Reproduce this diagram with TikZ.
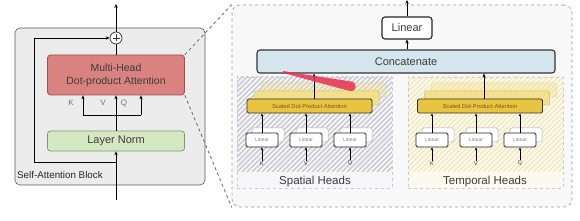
\documentclass[tikz,border=0pt]{standalone}
\usepackage{fontspec}
\setmainfont{Liberation Sans}
\usetikzlibrary{arrows.meta}
\definecolor{blkfill}{RGB}{236,236,236}
\definecolor{blkdraw}{RGB}{90,90,90}
\definecolor{mhafill}{RGB}{217,130,128}
\definecolor{mhadraw}{RGB}{160,80,80}
\definecolor{lnfill}{RGB}{214,232,194}
\definecolor{lndraw}{RGB}{130,150,110}
\definecolor{panelfill}{RGB}{248,248,248}
\definecolor{paneldraw}{RGB}{150,150,150}
\definecolor{ccfill}{RGB}{212,229,238}
\definecolor{sdfill}{RGB}{233,196,64}
\definecolor{sdback}{RGB}{243,224,140}
\definecolor{sdbackdraw}{RGB}{205,190,120}
\definecolor{spfill}{RGB}{246,246,248}
\definecolor{sphatch}{RGB}{196,196,206}
\definecolor{tpfill}{RGB}{252,250,238}
\definecolor{tphatch}{RGB}{240,230,186}
\definecolor{txt}{RGB}{60,60,60}
\definecolor{sdtxt}{RGB}{110,90,30}
\definecolor{laser}{RGB}{232,48,80}
\begin{document}
\begin{tikzpicture}[x=1pt,y=-1pt,
  arr/.style={-{Stealth[length=4pt,width=3.4pt]}, line width=0.8pt},
  sarr/.style={-{Stealth[length=3pt,width=2.6pt]}, line width=0.7pt},
  box/.style={rounded corners=3pt, inner sep=0pt, align=center, text=txt},
  mhabox/.style={box, fill=mhafill, draw=mhadraw, line width=0.7pt, minimum width=137, minimum height=40, font=\fontsize{10.5}{13}\selectfont},
  lnbox/.style={box, fill=lnfill, draw=lndraw, line width=0.7pt, minimum width=137, minimum height=20, font=\fontsize{11}{13}\selectfont},
  blkbox/.style={rounded corners=5pt, fill=blkfill, draw=blkdraw, line width=0.6pt, minimum width=190, minimum height=157, inner sep=0pt},
  panelbox/.style={rounded corners=8pt, fill=panelfill, draw=paneldraw, dashed, line width=0.6pt, minimum width=340, minimum height=202, inner sep=0pt},
  zoomline/.style={draw=gray!80!black, dashed, line width=0.8pt},
  regbox/.style={draw=gray!40, dashed, line width=0.4pt, minimum width=155, minimum height=111, inner sep=0pt},
  linbig/.style={box, fill=white, draw=black!85, line width=1.1pt, minimum width=50, minimum height=22, font=\fontsize{11}{13}\selectfont},
  ccbox/.style={box, fill=ccfill, draw=black!80, line width=1.1pt, minimum width=298, minimum height=23, font=\fontsize{11}{13}\selectfont},
  sdbox/.style={rounded corners=1.5pt, inner sep=0pt, fill=sdfill, draw=black!80, line width=0.9pt, minimum width=125, minimum height=14, font=\fontsize{5.8}{7}\selectfont, text=sdtxt},
  sdbk/.style={rounded corners=1.5pt, inner sep=0pt, fill=sdback, draw=sdbackdraw, line width=0.5pt, minimum width=125, minimum height=14},
  linsm/.style={rounded corners=1.5pt, inner sep=0pt, fill=white, draw=black!85, line width=0.9pt, minimum width=32, minimum height=14, font=\fontsize{5}{6}\selectfont, text=gray},
  linbk/.style={rounded corners=1.5pt, inner sep=0pt, fill=white, draw=gray!60, line width=0.5pt, minimum width=32, minimum height=14},
  kvq/.style={inner sep=0.5pt, font=\fontsize{5.5}{6}\selectfont, text=txt},
  kvqbig/.style={inner sep=0pt, font=\fontsize{8}{9}\selectfont, text=gray!90!black},
  headlbl/.style={inner sep=0pt, font=\fontsize{11.5}{13}\selectfont, text=txt}
]
\useasboundingbox (0,0) rectangle (580,221);

% ---------- left: self-attention block ----------
\node[blkbox] (blk) at (110,106.5) {};
\node[anchor=west, inner sep=0pt, font=\fontsize{9.8}{11}\selectfont, text=black!85] (blklbl) at (17,175) {Self-Attention Block};
\node[mhabox] (mha) at (116,75) {Multi-Head\\Dot-product Attention};
\node[lnbox] (ln) at (116,141) {Layer Norm};
\node[circle, draw=black!80, fill=white, line width=0.7pt, minimum size=12, inner sep=0pt,
  path picture={\draw[line width=0.7pt] ([xshift=-3.5pt]path picture bounding box.center) -- ([xshift=3.5pt]path picture bounding box.center);
                \draw[line width=0.7pt] ([yshift=-3.5pt]path picture bounding box.center) -- ([yshift=3.5pt]path picture bounding box.center);}] (plus) at (116,38) {};
\node[kvqbig] (lk) at (71,103) {K};
\node[kvqbig] (lv) at (103,103) {V};
\node[kvqbig] (lq) at (124,103) {Q};

\coordinate (out) at (116,4);
\coordinate (in) at (116,200);
\coordinate (rs) at (116,162);
\coordinate (rl) at (34,162);
\coordinate (bk) at (83,115);
\coordinate (bq) at (141,115);

\draw[arr] (plus.north) -- (out);
\draw[line width=0.8pt] (mha.north) -- (plus.south);
\draw[arr] (in) -- (ln.south);
\draw[arr] (ln.north) -- (mha.south);
\draw[line width=0.8pt] (bk) -- (bq);
\draw[arr] (bk) -- (bk |- mha.south);
\draw[arr] (bq) -- (bq |- mha.south);
\draw[arr] (rs) -- (rl) |- (plus.west);

% ---------- right panel ----------
\node[panelbox] (panel) at (402,106) {};
\draw[zoomline] (mha.north east) -- (panel.north west);
\draw[zoomline] (mha.south east) -- (panel.south west);

% regions
\node[regbox, fill=spfill] (sp) at (314.5,132.5) {};
\node[regbox, fill=tpfill] (tp) at (485.5,132.5) {};
\begin{scope}
  \clip (237,77) rectangle (392,172);
  \foreach \i in {0,5,...,280} \draw[sphatch, line width=1.2pt] (237+\i-100,172) -- ++(100,-100);
\end{scope}
\begin{scope}
  \clip (408,77) rectangle (563,172);
  \foreach \i in {0,5,...,280} \draw[tphatch, line width=1.2pt] (408+\i-100,172) -- ++(100,-100);
\end{scope}
\node[regbox] (spb) at (314.5,132.5) {};
\node[regbox] (tpb) at (485.5,132.5) {};
\node[headlbl] (sph) at (315,182) {Spatial Heads};
\node[headlbl] (tph) at (485,182) {Temporal Heads};

% top: linear + concat
\node[linbig] (lin) at (407,28) {Linear};
\node[ccbox] (cc) at (406,61.5) {Concatenate};
\coordinate (top) at (407,0);
\draw[arr] (lin.north) -- (top);
\draw[arr] (cc.north -| lin) -- (lin.south);

% spatial heads
\node[sdbk, opacity=0.4] (sdS2) at (323.5,90) {};
\node[sdbk] (sdS1) at (316.5,98) {};
\node[sdbox] (sdS) at (309.5,106) {Scaled Dot-Product Attention};
\foreach \n/\x/\l in {1/262/K,2/306/V,3/350/Q}{
  \node[linbk] (lSb\n) at (\x+6,135) {};
  \node[linsm] (lS\n) at (\x,140) {Linear};
  \node[kvq] (kS\n) at (\x,163.5) {\l};
  \draw[sarr] (kS\n.north) -- (lS\n.south);
  \draw[sarr] (lS\n.north) -- (lS\n.north |- sdS.south);
}
\draw[arr] (sdS.north -| 314,0) -- (314,0 |- cc.south);

% temporal heads
\node[sdbk, opacity=0.4] (sdT2) at (494,90) {};
\node[sdbk] (sdT1) at (487,98) {};
\node[sdbox] (sdT) at (480,106) {Scaled Dot-Product Attention};
\foreach \n/\x/\l in {1/432/K,2/476/V,3/520/Q}{
  \node[linbk] (lTb\n) at (\x+6,135) {};
  \node[linsm] (lT\n) at (\x,140) {Linear};
  \node[kvq] (kT\n) at (\x,163.5) {\l};
  \draw[sarr] (kT\n.north) -- (lT\n.south);
  \draw[sarr] (lT\n.north) -- (lT\n.north |- sdT.south);
}
\draw[arr] (sdT.north -| 484,0) -- (484,0 |- cc.south);

% laser pointer mark
\fill[laser, opacity=0.85] (283,71) -- (351,81.5) .. controls (358,82.5) and (357,92) .. (350,91) -- (283,73) -- cycle;
\end{tikzpicture}
\end{document}
